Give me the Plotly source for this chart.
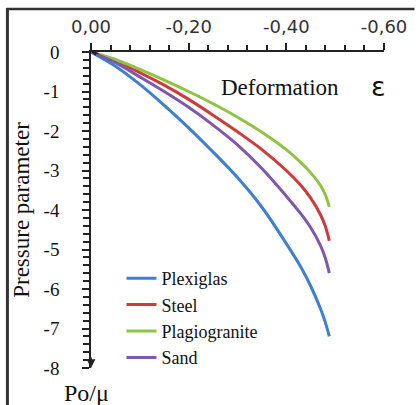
import plotly.graph_objects as go

# Deformation (negative, plotted to the right) and pressure parameter P0/mu
deformation = [0.0, -0.05, -0.10, -0.15, -0.20, -0.25, -0.30, -0.35, -0.40, -0.43, -0.45, -0.47, -0.48, -0.488]
plexiglas = [0.0, -0.36, -0.82, -1.35, -1.92, -2.53, -3.18, -3.93, -4.85, -5.45, -5.93, -6.50, -6.85, -7.20]
steel = [0.0, -0.23, -0.52, -0.84, -1.20, -1.60, -2.02, -2.47, -3.00, -3.38, -3.70, -4.12, -4.42, -4.78]
plagiogranite = [0.0, -0.19, -0.44, -0.71, -1.00, -1.31, -1.65, -2.03, -2.47, -2.80, -3.06, -3.38, -3.62, -3.92]
sand = [0.0, -0.27, -0.63, -1.00, -1.40, -1.85, -2.35, -2.95, -3.65, -4.10, -4.45, -4.90, -5.22, -5.60]

series_names = ["Plexiglas", "Steel", "Plagiogranite", "Sand"]
series_values = [plexiglas, steel, plagiogranite, sand]
series_colors = ["#3f7fcf", "#cf3b3b", "#8ec343", "#7f57ad"]

x_tick_vals = [0.0, -0.2, -0.4, -0.6]
x_tick_labels = ["0,00", "-0,20", "-0,40", "-0,60"]
y_tick_vals = [0, -1, -2, -3, -4, -5, -6, -7, -8]
y_tick_labels = ["0", "-1", "-2", "-3", "-4", "-5", "-6", "-7", "-8"]

SERIF = "Liberation Serif, Times New Roman, serif"
SANS = "DejaVu Sans, Verdana, sans-serif"
AXIS = "#222222"

fig = go.Figure()
for name, vals, col in zip(series_names, series_values, series_colors):
    fig.add_trace(go.Scatter(
        x=deformation, y=vals, name=name, mode="lines",
        line=dict(color=col, width=3, shape="spline", smoothing=1.0),
    ))

W, H = 419, 405
L, R, T, B = 91, 30, 52, 37
pw, ph = W - L - R, H - T - B


def px_x(p):
    return (p - L) / pw


def px_y(p):
    return 1 - (p - T) / ph


def label(text, x, y, family, size):
    return dict(text=text, xref="paper", yref="paper", x=px_x(x), y=px_y(y),
                xanchor="center", yanchor="middle", showarrow=False,
                font=dict(family=family, size=size, color="#111"))


fig.update_layout(
    width=W, height=H,
    margin=dict(l=L, r=R, t=T, b=B),
    paper_bgcolor="white", plot_bgcolor="white",
    showlegend=True,
    legend=dict(
        x=px_x(122), y=px_y(260), xanchor="left", yanchor="top",
        bgcolor="rgba(0,0,0,0)", font=dict(family=SERIF, size=18, color="#111"),
        itemwidth=30, tracegroupgap=0,
    ),
    xaxis=dict(
        side="top", range=[0.0, -0.6], showgrid=False, zeroline=False,
        showline=True, linecolor=AXIS, linewidth=1.5,
        tickmode="array", tickvals=x_tick_vals, ticktext=x_tick_labels,
        ticks="outside", ticklen=7, tickwidth=1.6, tickcolor=AXIS,
        ticklabelstandoff=3,
        tickfont=dict(family=SANS, size=18, color="#333"),
        minor=dict(tickmode="linear", tick0=0, dtick=0.04, ticks="outside",
                   ticklen=5, tickwidth=1.6, tickcolor=AXIS),
    ),
    yaxis=dict(
        range=[-8, 0], showgrid=False, zeroline=False,
        showline=True, linecolor=AXIS, linewidth=1.6,
        tickmode="array", tickvals=y_tick_vals, ticktext=y_tick_labels,
        ticks="outside", ticklen=7, tickwidth=1.6, tickcolor=AXIS,
        ticklabelstandoff=19,
        tickfont=dict(family=SERIF, size=19, color="#111"),
        minor=dict(tickmode="linear", tick0=0, dtick=0.2, ticks="outside",
                   ticklen=6, tickwidth=1.5, tickcolor=AXIS),
        title=dict(text="Pressure parameter", standoff=8,
                   font=dict(family=SERIF, size=23, color="#111")),
    ),
    annotations=[
        label("Deformation", 283, 88, SERIF, 23),
        label("ε", 383, 86, SANS, 27),
        label("Po/μ", 86, 393, SERIF, 24),
        # arrow head at the lower end of the vertical axis
        dict(text="", x=0, y=-8, xref="x", yref="y", ax=0, ay=-12,
             showarrow=True, arrowhead=2, arrowsize=1.1, arrowwidth=1.6, arrowcolor=AXIS),
        # small arrow head at the origin on the horizontal axis
        dict(text="", x=0, y=0, xref="x", yref="y", ax=9, ay=2,
             showarrow=True, arrowhead=2, arrowsize=0.9, arrowwidth=1.2, arrowcolor=AXIS),
    ],
    shapes=[
        # outer frame: left and top edges
        dict(type="line", xref="paper", yref="paper", x0=px_x(6), x1=px_x(6),
             y0=px_y(8), y1=px_y(406), line=dict(color="#333", width=3)),
        dict(type="line", xref="paper", yref="paper", x0=px_x(5), x1=px_x(420),
             y0=px_y(9), y1=px_y(9), line=dict(color="#333", width=2.5)),
    ],
)

fig.write_html("out.html")
